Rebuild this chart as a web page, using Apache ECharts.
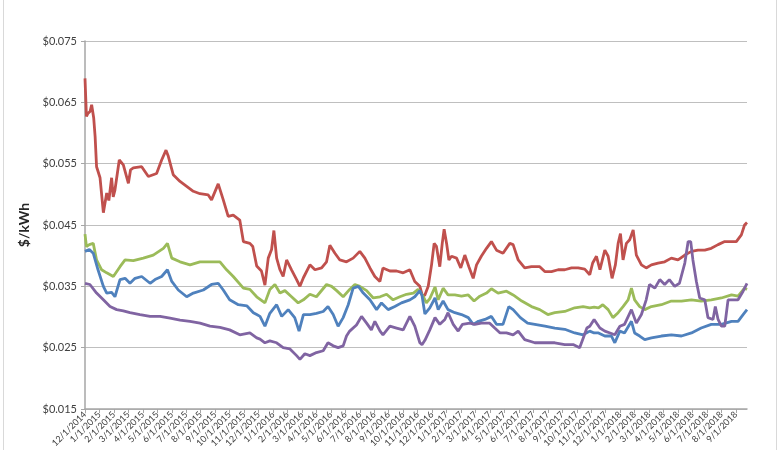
<!DOCTYPE html>
<html>
<head>
<meta charset="utf-8">
<script src="https://cdn.jsdelivr.net/npm/echarts@6/dist/echarts.min.js"></script>
<style>
html,body{margin:0;padding:0;background:#fff;}
#chart{width:780px;height:450px;}
</style>
</head>
<body>
<div id="chart"></div>
<script>
// x positions are months elapsed since 12/1/2014
const tickLabels = ['12/1/2014','1/1/2015','2/1/2015','3/1/2015','4/1/2015','5/1/2015','6/1/2015','7/1/2015','8/1/2015','9/1/2015','10/1/2015','11/1/2015',
 '12/1/2015','1/1/2016','2/1/2016','3/1/2016','4/1/2016','5/1/2016','6/1/2016','7/1/2016','8/1/2016','9/1/2016','10/1/2016','11/1/2016',
 '12/1/2016','1/1/2017','2/1/2017','3/1/2017','4/1/2017','5/1/2017','6/1/2017','7/1/2017','8/1/2017','9/1/2017','10/1/2017','11/1/2017',
 '12/1/2017','1/1/2018','2/1/2018','3/1/2018','4/1/2018','5/1/2018','6/1/2018','7/1/2018','8/1/2018','9/1/2018'];
const yTicks = [0.015,0.025,0.035,0.045,0.055,0.065,0.075];

const redT = [0,0.1,0.2,0.35,0.46,0.6,0.7,0.8,1.04,1.27,1.38,1.5,1.65,1.84,1.95,2.07,2.37,2.65,3.0,3.15,3.34,3.92,4.38,4.95,5.3,5.6,5.76,6.1,6.57,7.03,7.49,7.95,8.52,8.75,9.21,9.56,9.9,10.25,10.7,10.95,11.4,11.6,11.87,12.2,12.44,12.67,12.9,13.06,13.25,13.48,13.7,13.94,14.28,14.63,14.86,15.1,15.55,15.9,16.36,16.7,16.93,17.28,17.62,18.08,18.54,19.0,19.35,19.7,20.04,20.39,20.6,21.08,21.54,22.0,22.46,22.8,23.15,23.35,23.5,23.73,23.96,24.14,24.3,24.53,24.7,24.83,25.0,25.16,25.34,25.69,25.98,26.26,26.54,26.84,27.07,27.4,27.76,28.1,28.45,28.9,29.37,29.6,29.95,30.4,30.87,31.44,31.79,32.25,32.71,33.17,33.64,34.1,34.55,34.9,35.1,35.36,35.6,35.94,36.17,36.44,36.67,36.86,37.02,37.2,37.43,37.66,37.9,38.12,38.47,38.8,39.16,39.62,40.08,40.54,41.0,41.47,41.93,42.38,42.85,43.3,43.77,44.23,44.7,45.03,45.38,45.6,45.77];
const redV = [0.0689,0.0627,0.0632,0.0635,0.0646,0.0625,0.0594,0.0545,0.0527,0.0470,0.0468,0.0502,0.0490,0.0527,0.0496,0.0507,0.0556,0.0548,0.0518,0.0540,0.0543,0.0545,0.0529,0.0534,0.0556,0.0572,0.0562,0.0532,0.0521,0.0513,0.0505,0.0501,0.0499,0.0491,0.0517,0.0491,0.0464,0.0466,0.0458,0.0423,0.0420,0.0415,0.0383,0.0375,0.0352,0.0396,0.0410,0.0441,0.0396,0.0377,0.0366,0.0393,0.0377,0.0361,0.0350,0.0364,0.0385,0.0377,0.0380,0.0390,0.0417,0.0404,0.0393,0.0390,0.0396,0.0407,0.0396,0.0380,0.0366,0.0358,0.0380,0.0375,0.0375,0.0372,0.0377,0.0358,0.0350,0.0333,0.0336,0.0350,0.0385,0.0420,0.0415,0.0382,0.0420,0.0443,0.0420,0.0393,0.0399,0.0396,0.0380,0.0401,0.0382,0.0363,0.0385,0.0399,0.0412,0.0423,0.0409,0.0404,0.0420,0.0418,0.0393,0.0380,0.0382,0.0382,0.0374,0.0374,0.0377,0.0377,0.0380,0.0380,0.0378,0.0369,0.0388,0.0399,0.0377,0.0409,0.0399,0.0363,0.0385,0.0420,0.0436,0.0393,0.0420,0.0426,0.0442,0.0401,0.0385,0.0380,0.0385,0.0388,0.0390,0.0396,0.0393,0.0401,0.0407,0.0409,0.0409,0.0412,0.0418,0.0423,0.0423,0.0423,0.0434,0.0450,0.0454];

const greenT = [0,0.1,0.3,0.57,0.8,1.15,1.5,1.96,2.42,2.77,3.34,4.03,4.72,5.42,5.7,6.0,6.57,7.26,7.95,8.64,9.33,9.79,10.25,10.95,11.4,11.87,12.44,12.78,13.13,13.48,13.82,14.28,14.74,15.1,15.55,16.0,16.7,17.05,17.4,17.85,18.3,18.66,19.0,19.47,19.93,20.4,20.85,21.3,21.77,22.23,22.7,23.03,23.4,23.6,23.84,24.2,24.42,24.76,25.1,25.57,26.03,26.5,26.9,27.3,27.76,28.1,28.56,29.14,29.6,30.2,30.87,31.44,32.0,32.48,33.17,33.86,34.44,34.9,35.2,35.5,35.8,36.17,36.5,36.86,37.2,37.55,37.78,38.0,38.35,38.7,39.16,39.85,40.54,41.24,41.93,42.6,43.3,44.0,44.7,45.15,45.6,45.77];
const greenV = [0.0435,0.0415,0.0418,0.0420,0.0393,0.0377,0.0372,0.0366,0.0382,0.0393,0.0392,0.0396,0.0401,0.0412,0.0420,0.0396,0.0390,0.0385,0.0390,0.0390,0.0390,0.0377,0.0366,0.0347,0.0345,0.0333,0.0323,0.0345,0.0353,0.0339,0.0343,0.0333,0.0323,0.0328,0.0337,0.0333,0.0353,0.0350,0.0343,0.0333,0.0345,0.0353,0.0350,0.0343,0.0331,0.0333,0.0337,0.0328,0.0333,0.0337,0.0339,0.0345,0.0333,0.0323,0.0330,0.0349,0.0328,0.0347,0.0336,0.0336,0.0334,0.0336,0.0326,0.0334,0.0339,0.0346,0.0339,0.0342,0.0336,0.0326,0.0317,0.0312,0.0304,0.0307,0.0309,0.0315,0.0317,0.0315,0.0316,0.0315,0.0320,0.0312,0.0299,0.0307,0.0317,0.0328,0.0347,0.0328,0.0317,0.0312,0.0317,0.0320,0.0326,0.0326,0.0328,0.0326,0.0328,0.0331,0.0336,0.0334,0.0347,0.0345];

const blueT = [0,0.3,0.57,0.9,1.27,1.5,1.84,2.07,2.42,2.77,3.11,3.46,3.92,4.5,4.84,5.3,5.7,6.0,6.45,7.03,7.49,8.18,8.75,9.21,9.56,10.0,10.6,11.2,11.64,11.87,12.1,12.44,12.78,13.25,13.6,14.05,14.5,14.8,15.1,15.55,16.0,16.47,16.8,17.16,17.5,17.85,18.2,18.54,18.9,19.24,19.7,20.16,20.5,20.96,21.42,21.88,22.46,22.8,23.15,23.3,23.5,23.84,24.2,24.42,24.76,25.1,25.57,26.03,26.5,26.84,27.2,27.65,28.1,28.45,28.9,29.3,29.6,30.1,30.6,31.1,31.8,32.48,33.17,33.86,34.44,34.9,35.2,35.5,35.94,36.4,36.63,36.98,37.3,37.78,38.0,38.35,38.7,39.16,39.85,40.54,41.24,41.93,42.6,43.3,44.0,44.7,45.15,45.5,45.77];
const blueV = [0.0407,0.0410,0.0404,0.0377,0.0350,0.0339,0.0340,0.0333,0.0361,0.0363,0.0355,0.0363,0.0366,0.0355,0.0361,0.0366,0.0377,0.0358,0.0344,0.0333,0.0339,0.0344,0.0353,0.0355,0.0344,0.0328,0.0320,0.0318,0.0307,0.0304,0.0301,0.0285,0.0306,0.0320,0.0301,0.0312,0.0299,0.0277,0.0304,0.0304,0.0306,0.0309,0.0317,0.0304,0.0285,0.0299,0.0320,0.0347,0.0350,0.0339,0.0328,0.0312,0.0323,0.0312,0.0317,0.0323,0.0328,0.0333,0.0343,0.0335,0.0305,0.0315,0.0331,0.0312,0.0326,0.0312,0.0307,0.0304,0.0299,0.0288,0.0293,0.0296,0.0301,0.0288,0.0288,0.0317,0.0312,0.0299,0.0290,0.0288,0.0285,0.0282,0.0280,0.0274,0.0271,0.0277,0.0274,0.0274,0.0269,0.0269,0.0258,0.0277,0.0274,0.0293,0.0274,0.0269,0.0263,0.0266,0.0269,0.0271,0.0269,0.0274,0.0282,0.0288,0.0288,0.0293,0.0293,0.0304,0.0312];

const purpleT = [0,0.34,0.8,1.27,1.73,2.19,2.65,3.11,3.8,4.5,5.19,5.88,6.57,7.26,7.95,8.64,9.33,10.0,10.7,11.4,11.87,12.1,12.44,12.78,13.25,13.7,14.17,14.63,14.86,15.2,15.55,16.0,16.47,16.8,17.16,17.5,17.85,18.08,18.3,18.77,19.12,19.47,19.8,20.04,20.4,20.6,21.08,21.54,22.0,22.46,22.8,23.15,23.3,23.5,23.84,24.2,24.53,24.88,25.1,25.46,25.8,26.1,26.6,26.95,27.4,27.98,28.33,28.7,29.14,29.6,29.95,30.4,31.1,31.8,32.48,33.17,33.75,34.2,34.5,34.7,34.9,35.2,35.6,35.94,36.3,36.63,36.98,37.3,37.78,38.12,38.47,38.8,39.03,39.4,39.74,40.08,40.4,40.77,41.1,41.47,41.7,41.88,42.03,42.27,42.5,42.85,43.07,43.42,43.58,43.77,44.0,44.23,44.46,44.8,45.15,45.5,45.77];
const purpleV = [0.0355,0.0353,0.0339,0.0328,0.0317,0.0312,0.0310,0.0307,0.0304,0.0301,0.0301,0.0298,0.0295,0.0293,0.0290,0.0285,0.0283,0.0279,0.0271,0.0274,0.0266,0.0264,0.0258,0.0261,0.0258,0.0250,0.0248,0.0237,0.0231,0.0240,0.0237,0.0242,0.0245,0.0258,0.0253,0.0250,0.0253,0.0269,0.0277,0.0287,0.0301,0.0290,0.0279,0.0293,0.0277,0.0271,0.0285,0.0282,0.0279,0.0301,0.0285,0.0258,0.0255,0.0262,0.0279,0.0299,0.0288,0.0296,0.0307,0.0288,0.0277,0.0288,0.0290,0.0288,0.0290,0.0290,0.0282,0.0274,0.0274,0.0271,0.0277,0.0263,0.0258,0.0258,0.0258,0.0255,0.0255,0.0250,0.0269,0.0282,0.0285,0.0296,0.0282,0.0277,0.0274,0.0271,0.0285,0.0288,0.0312,0.0290,0.0304,0.0328,0.0353,0.0347,0.0361,0.0353,0.0361,0.0350,0.0355,0.0388,0.0423,0.0423,0.0393,0.0358,0.0331,0.0328,0.0299,0.0296,0.0317,0.0296,0.0285,0.0285,0.0328,0.0328,0.0328,0.0342,0.0355];

const seriesNames = ['Red','Green','Blue','Purple'];
const seriesColors = ['#C0504D','#9BBB59','#4F81BD','#8064A2'];

function pairs(t, v){ return t.map((x,i)=>[x, v[i]]); }
const allData = [pairs(redT,redV), pairs(greenT,greenV), pairs(blueT,blueV), pairs(purpleT,purpleV)];
const tickIdx = tickLabels.map((_,i)=>i);
const FONT = 'Lato, "Open Sans", sans-serif';

const chart = echarts.init(document.getElementById('chart'), null, {renderer:'canvas'});
chart.setOption({
  animation:false,
  backgroundColor:'#ffffff',
  grid:{left:85, right:33, top:41, bottom:41, containLabel:false},
  xAxis:{
    type:'value', min:0, max:45.77,
    axisLine:{show:true, lineStyle:{color:'#a6a6a6', width:1.5}},
    axisTick:{show:true, customValues:tickIdx, length:4, lineStyle:{color:'#a6a6a6'}},
    axisLabel:{show:true, customValues:tickIdx, rotate:45, fontSize:9, color:'#404040', fontFamily:FONT, margin:4,
      formatter:function(v){ const i=Math.round(v); return tickLabels[i]||''; }},
    splitLine:{show:false}
  },
  yAxis:{
    type:'value', min:yTicks[0], max:yTicks[yTicks.length-1], interval:0.01,
    name:'$/kWh', nameLocation:'middle', nameGap:46, nameRotate:90,
    nameTextStyle:{fontSize:14, fontWeight:'bold', color:'#262626', fontFamily:FONT},
    axisLine:{show:true, lineStyle:{color:'#a6a6a6', width:1.5}},
    axisTick:{show:true, length:4, lineStyle:{color:'#a6a6a6'}},
    axisLabel:{fontSize:11, color:'#404040', fontFamily:FONT, margin:8,
      formatter:function(v){ return '$' + v.toFixed(3); }},
    splitLine:{show:true, lineStyle:{color:'#bfbfbf', width:1.2}}
  },
  series: allData.map((d,i)=>({
    name:seriesNames[i], type:'line', data:d, showSymbol:false, symbol:'none',
    lineStyle:{color:seriesColors[i], width:2.8}, itemStyle:{color:seriesColors[i]},
    z:2+i
  })),
  graphic:[
    {type:'line', shape:{x1:3.5,y1:0,x2:3.5,y2:450}, style:{stroke:'#d9d9d9', lineWidth:1}},
    {type:'line', shape:{x1:776.5,y1:0,x2:776.5,y2:450}, style:{stroke:'#d9d9d9', lineWidth:1}}
  ]
});
</script>
</body>
</html>
